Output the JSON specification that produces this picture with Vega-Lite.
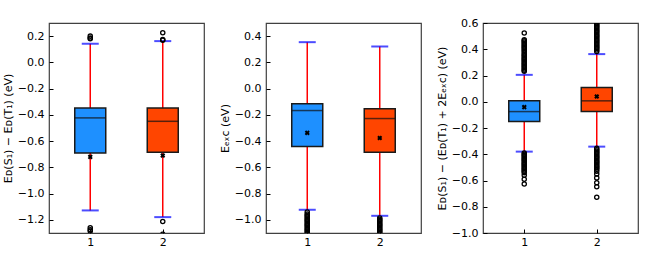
{
  "$schema": "https://vega.github.io/schema/vega-lite/v6.json",
  "padding": {"left": 1, "top": 16, "right": 5, "bottom": 5},
  "bounds": "flush",
  "spacing": 62,
  "datasets": {
    "boxes": [
      {"panel": 1, "group": 1, "lower": -1.128, "q1": -0.69, "median": -0.423, "q3": -0.347, "upper": 0.142, "mean": -0.72, "color": "#1E90FF"},
      {"panel": 1, "group": 2, "lower": -1.179, "q1": -0.685, "median": -0.449, "q3": -0.347, "upper": 0.162, "mean": -0.71, "color": "#FF4500"},
      {"panel": 2, "group": 1, "lower": -0.923, "q1": -0.44, "median": -0.167, "q3": -0.116, "upper": 0.354, "mean": -0.337, "color": "#1E90FF"},
      {"panel": 2, "group": 2, "lower": -0.969, "q1": -0.485, "median": -0.228, "q3": -0.154, "upper": 0.321, "mean": -0.376, "color": "#FF4500"},
      {"panel": 3, "group": 1, "lower": -0.38, "q1": -0.151, "median": -0.075, "q3": 0.007, "upper": 0.205, "mean": -0.041, "color": "#1E90FF"},
      {"panel": 3, "group": 2, "lower": -0.342, "q1": -0.075, "median": 0.007, "q3": 0.109, "upper": 0.363, "mean": 0.04, "color": "#FF4500"}
    ],
    "outliers": [
      {"panel": 1, "group": 1, "value": 0.2}, {"panel": 1, "group": 1, "value": 0.186}, {"panel": 1, "group": 1, "value": 0.18},
      {"panel": 1, "group": 1, "value": -1.26}, {"panel": 1, "group": 1, "value": -1.275}, {"panel": 1, "group": 1, "value": -1.285},
      {"panel": 1, "group": 2, "value": 0.226}, {"panel": 1, "group": 2, "value": 0.175}, {"panel": 1, "group": 2, "value": 0.168},
      {"panel": 1, "group": 2, "value": -1.212}, {"panel": 1, "group": 2, "value": -1.31},
      {"panel": 2, "group": 1, "value": -0.94}, {"panel": 2, "group": 1, "value": -0.955}, {"panel": 2, "group": 1, "value": -0.965},
      {"panel": 2, "group": 1, "value": -0.975}, {"panel": 2, "group": 1, "value": -0.985}, {"panel": 2, "group": 1, "value": -0.995},
      {"panel": 2, "group": 1, "value": -1.005}, {"panel": 2, "group": 1, "value": -1.015}, {"panel": 2, "group": 1, "value": -1.025},
      {"panel": 2, "group": 1, "value": -1.035}, {"panel": 2, "group": 1, "value": -1.045}, {"panel": 2, "group": 1, "value": -1.055},
      {"panel": 2, "group": 1, "value": -1.065}, {"panel": 2, "group": 1, "value": -1.075}, {"panel": 2, "group": 1, "value": -1.085},
      {"panel": 2, "group": 1, "value": -1.095}, {"panel": 2, "group": 1, "value": -1.105}, {"panel": 2, "group": 1, "value": -1.12},
      {"panel": 2, "group": 2, "value": -0.985}, {"panel": 2, "group": 2, "value": -0.995}, {"panel": 2, "group": 2, "value": -1.005},
      {"panel": 2, "group": 2, "value": -1.015}, {"panel": 2, "group": 2, "value": -1.025}, {"panel": 2, "group": 2, "value": -1.035},
      {"panel": 2, "group": 2, "value": -1.045}, {"panel": 2, "group": 2, "value": -1.055}, {"panel": 2, "group": 2, "value": -1.065},
      {"panel": 2, "group": 2, "value": -1.075}, {"panel": 2, "group": 2, "value": -1.085}, {"panel": 2, "group": 2, "value": -1.095},
      {"panel": 2, "group": 2, "value": -1.105}, {"panel": 2, "group": 2, "value": -1.12},
      {"panel": 3, "group": 1, "value": 0.524}, {"panel": 3, "group": 1, "value": 0.473}, {"panel": 3, "group": 1, "value": 0.465},
      {"panel": 3, "group": 1, "value": 0.455}, {"panel": 3, "group": 1, "value": 0.445}, {"panel": 3, "group": 1, "value": 0.435},
      {"panel": 3, "group": 1, "value": 0.425}, {"panel": 3, "group": 1, "value": 0.415}, {"panel": 3, "group": 1, "value": 0.405},
      {"panel": 3, "group": 1, "value": 0.395}, {"panel": 3, "group": 1, "value": 0.385}, {"panel": 3, "group": 1, "value": 0.372},
      {"panel": 3, "group": 1, "value": 0.36}, {"panel": 3, "group": 1, "value": 0.35}, {"panel": 3, "group": 1, "value": 0.34},
      {"panel": 3, "group": 1, "value": 0.33}, {"panel": 3, "group": 1, "value": 0.32}, {"panel": 3, "group": 1, "value": 0.31},
      {"panel": 3, "group": 1, "value": 0.3}, {"panel": 3, "group": 1, "value": 0.29}, {"panel": 3, "group": 1, "value": 0.28},
      {"panel": 3, "group": 1, "value": 0.27}, {"panel": 3, "group": 1, "value": 0.26}, {"panel": 3, "group": 1, "value": 0.25},
      {"panel": 3, "group": 1, "value": 0.24}, {"panel": 3, "group": 1, "value": 0.232},
      {"panel": 3, "group": 1, "value": -0.39}, {"panel": 3, "group": 1, "value": -0.4}, {"panel": 3, "group": 1, "value": -0.41},
      {"panel": 3, "group": 1, "value": -0.42}, {"panel": 3, "group": 1, "value": -0.43}, {"panel": 3, "group": 1, "value": -0.44},
      {"panel": 3, "group": 1, "value": -0.45}, {"panel": 3, "group": 1, "value": -0.46}, {"panel": 3, "group": 1, "value": -0.47},
      {"panel": 3, "group": 1, "value": -0.48}, {"panel": 3, "group": 1, "value": -0.49}, {"panel": 3, "group": 1, "value": -0.5},
      {"panel": 3, "group": 1, "value": -0.51}, {"panel": 3, "group": 1, "value": -0.52}, {"panel": 3, "group": 1, "value": -0.53},
      {"panel": 3, "group": 1, "value": -0.54}, {"panel": 3, "group": 1, "value": -0.56}, {"panel": 3, "group": 1, "value": -0.59},
      {"panel": 3, "group": 1, "value": -0.627},
      {"panel": 3, "group": 2, "value": 0.383}, {"panel": 3, "group": 2, "value": 0.395}, {"panel": 3, "group": 2, "value": 0.405},
      {"panel": 3, "group": 2, "value": 0.415}, {"panel": 3, "group": 2, "value": 0.425}, {"panel": 3, "group": 2, "value": 0.435},
      {"panel": 3, "group": 2, "value": 0.445}, {"panel": 3, "group": 2, "value": 0.455}, {"panel": 3, "group": 2, "value": 0.465},
      {"panel": 3, "group": 2, "value": 0.475}, {"panel": 3, "group": 2, "value": 0.485}, {"panel": 3, "group": 2, "value": 0.495},
      {"panel": 3, "group": 2, "value": 0.505}, {"panel": 3, "group": 2, "value": 0.515}, {"panel": 3, "group": 2, "value": 0.525},
      {"panel": 3, "group": 2, "value": 0.535}, {"panel": 3, "group": 2, "value": 0.545}, {"panel": 3, "group": 2, "value": 0.555},
      {"panel": 3, "group": 2, "value": 0.565}, {"panel": 3, "group": 2, "value": 0.575}, {"panel": 3, "group": 2, "value": 0.585},
      {"panel": 3, "group": 2, "value": 0.595}, {"panel": 3, "group": 2, "value": 0.61},
      {"panel": 3, "group": 2, "value": -0.354}, {"panel": 3, "group": 2, "value": -0.365}, {"panel": 3, "group": 2, "value": -0.375},
      {"panel": 3, "group": 2, "value": -0.385}, {"panel": 3, "group": 2, "value": -0.395}, {"panel": 3, "group": 2, "value": -0.405},
      {"panel": 3, "group": 2, "value": -0.415}, {"panel": 3, "group": 2, "value": -0.425}, {"panel": 3, "group": 2, "value": -0.435},
      {"panel": 3, "group": 2, "value": -0.445}, {"panel": 3, "group": 2, "value": -0.455}, {"panel": 3, "group": 2, "value": -0.465},
      {"panel": 3, "group": 2, "value": -0.475}, {"panel": 3, "group": 2, "value": -0.485}, {"panel": 3, "group": 2, "value": -0.495},
      {"panel": 3, "group": 2, "value": -0.505}, {"panel": 3, "group": 2, "value": -0.515}, {"panel": 3, "group": 2, "value": -0.53},
      {"panel": 3, "group": 2, "value": -0.55}, {"panel": 3, "group": 2, "value": -0.58}, {"panel": 3, "group": 2, "value": -0.617},
      {"panel": 3, "group": 2, "value": -0.647}, {"panel": 3, "group": 2, "value": -0.728}
    ]
  },
  "hconcat": [
    {
      "width": 155, "height": 210,
      "encoding": {"x": {"field": "group", "type": "quantitative", "scale": {"domain": [0.5, 2.5], "nice": false, "zero": false}, "axis": {"values": [1, 2], "format": "d", "title": null}}},
      "layer": [
        {"data": {"name": "boxes"}, "transform": [{"filter": "datum.panel == 1"}], "mark": {"type": "rule", "color": "#FF0000", "strokeWidth": 1.5},
         "encoding": {"y": {"field": "lower", "type": "quantitative", "scale": {"domain": [-1.3, 0.3], "nice": false, "zero": false}, "axis": {"values": [-1.2, -1.0, -0.8, -0.6, -0.4, -0.2, 0.0, 0.2], "format": ".1f"}, "title": "Eᴅ(S₁) − Eᴅ(T₁) (eV)"}, "y2": {"field": "upper"}}},
        {"data": {"name": "boxes"}, "transform": [{"filter": "datum.panel == 1"}], "mark": {"type": "bar", "size": 31, "stroke": "#1a1a1a", "strokeWidth": 1.5},
         "encoding": {"y": {"field": "q1", "type": "quantitative", "scale": {"domain": [-1.3, 0.3], "nice": false, "zero": false}, "axis": {"values": [-1.2, -1.0, -0.8, -0.6, -0.4, -0.2, 0.0, 0.2], "format": ".1f"}, "title": "Eᴅ(S₁) − Eᴅ(T₁) (eV)"}, "y2": {"field": "q3"}, "fill": {"field": "color", "type": "nominal", "scale": null}}},
        {"data": {"name": "boxes"}, "transform": [{"filter": "datum.panel == 1"}], "mark": {"type": "tick", "orient": "horizontal", "size": 31, "thickness": 1.5, "color": "#111111"},
         "encoding": {"y": {"field": "median", "type": "quantitative", "scale": {"domain": [-1.3, 0.3], "nice": false, "zero": false}, "axis": {"values": [-1.2, -1.0, -0.8, -0.6, -0.4, -0.2, 0.0, 0.2], "format": ".1f"}, "title": "Eᴅ(S₁) − Eᴅ(T₁) (eV)"}}},
        {"data": {"name": "boxes"}, "transform": [{"filter": "datum.panel == 1"}], "mark": {"type": "tick", "orient": "horizontal", "size": 17, "thickness": 2, "color": "#0000FF"},
         "encoding": {"y": {"field": "upper", "type": "quantitative", "scale": {"domain": [-1.3, 0.3], "nice": false, "zero": false}, "axis": {"values": [-1.2, -1.0, -0.8, -0.6, -0.4, -0.2, 0.0, 0.2], "format": ".1f"}, "title": "Eᴅ(S₁) − Eᴅ(T₁) (eV)"}}},
        {"data": {"name": "boxes"}, "transform": [{"filter": "datum.panel == 1"}], "mark": {"type": "tick", "orient": "horizontal", "size": 17, "thickness": 2, "color": "#0000FF"},
         "encoding": {"y": {"field": "lower", "type": "quantitative", "scale": {"domain": [-1.3, 0.3], "nice": false, "zero": false}, "axis": {"values": [-1.2, -1.0, -0.8, -0.6, -0.4, -0.2, 0.0, 0.2], "format": ".1f"}, "title": "Eᴅ(S₁) − Eᴅ(T₁) (eV)"}}},
        {"data": {"name": "boxes"}, "transform": [{"filter": "datum.panel == 1"}], "mark": {"type": "point", "shape": "cross", "angle": 45, "filled": true, "size": 26, "color": "#000000", "opacity": 1},
         "encoding": {"y": {"field": "mean", "type": "quantitative", "scale": {"domain": [-1.3, 0.3], "nice": false, "zero": false}, "axis": {"values": [-1.2, -1.0, -0.8, -0.6, -0.4, -0.2, 0.0, 0.2], "format": ".1f"}, "title": "Eᴅ(S₁) − Eᴅ(T₁) (eV)"}}},
        {"data": {"name": "outliers"}, "transform": [{"filter": "datum.panel == 1"}], "mark": {"type": "point", "shape": "circle", "filled": false, "size": 18, "stroke": "#000000", "strokeWidth": 1.3, "opacity": 1, "clip": true},
         "encoding": {"y": {"field": "value", "type": "quantitative", "scale": {"domain": [-1.3, 0.3], "nice": false, "zero": false}, "axis": {"values": [-1.2, -1.0, -0.8, -0.6, -0.4, -0.2, 0.0, 0.2], "format": ".1f"}, "title": "Eᴅ(S₁) − Eᴅ(T₁) (eV)"}}}
      ]
    },
    {
      "width": 155, "height": 210,
      "encoding": {"x": {"field": "group", "type": "quantitative", "scale": {"domain": [0.5, 2.5], "nice": false, "zero": false}, "axis": {"values": [1, 2], "format": "d", "title": null}}},
      "layer": [
        {"data": {"name": "boxes"}, "transform": [{"filter": "datum.panel == 2"}], "mark": {"type": "rule", "color": "#FF0000", "strokeWidth": 1.5},
         "encoding": {"y": {"field": "lower", "type": "quantitative", "scale": {"domain": [-1.1, 0.5], "nice": false, "zero": false}, "axis": {"values": [-1.0, -0.8, -0.6, -0.4, -0.2, 0.0, 0.2, 0.4], "format": ".1f"}, "title": "Eₑₓc (eV)"}, "y2": {"field": "upper"}}},
        {"data": {"name": "boxes"}, "transform": [{"filter": "datum.panel == 2"}], "mark": {"type": "bar", "size": 31, "stroke": "#1a1a1a", "strokeWidth": 1.5},
         "encoding": {"y": {"field": "q1", "type": "quantitative", "scale": {"domain": [-1.1, 0.5], "nice": false, "zero": false}, "axis": {"values": [-1.0, -0.8, -0.6, -0.4, -0.2, 0.0, 0.2, 0.4], "format": ".1f"}, "title": "Eₑₓc (eV)"}, "y2": {"field": "q3"}, "fill": {"field": "color", "type": "nominal", "scale": null}}},
        {"data": {"name": "boxes"}, "transform": [{"filter": "datum.panel == 2"}], "mark": {"type": "tick", "orient": "horizontal", "size": 31, "thickness": 1.5, "color": "#111111"},
         "encoding": {"y": {"field": "median", "type": "quantitative", "scale": {"domain": [-1.1, 0.5], "nice": false, "zero": false}, "axis": {"values": [-1.0, -0.8, -0.6, -0.4, -0.2, 0.0, 0.2, 0.4], "format": ".1f"}, "title": "Eₑₓc (eV)"}}},
        {"data": {"name": "boxes"}, "transform": [{"filter": "datum.panel == 2"}], "mark": {"type": "tick", "orient": "horizontal", "size": 17, "thickness": 2, "color": "#0000FF"},
         "encoding": {"y": {"field": "upper", "type": "quantitative", "scale": {"domain": [-1.1, 0.5], "nice": false, "zero": false}, "axis": {"values": [-1.0, -0.8, -0.6, -0.4, -0.2, 0.0, 0.2, 0.4], "format": ".1f"}, "title": "Eₑₓc (eV)"}}},
        {"data": {"name": "boxes"}, "transform": [{"filter": "datum.panel == 2"}], "mark": {"type": "tick", "orient": "horizontal", "size": 17, "thickness": 2, "color": "#0000FF"},
         "encoding": {"y": {"field": "lower", "type": "quantitative", "scale": {"domain": [-1.1, 0.5], "nice": false, "zero": false}, "axis": {"values": [-1.0, -0.8, -0.6, -0.4, -0.2, 0.0, 0.2, 0.4], "format": ".1f"}, "title": "Eₑₓc (eV)"}}},
        {"data": {"name": "boxes"}, "transform": [{"filter": "datum.panel == 2"}], "mark": {"type": "point", "shape": "cross", "angle": 45, "filled": true, "size": 26, "color": "#000000", "opacity": 1},
         "encoding": {"y": {"field": "mean", "type": "quantitative", "scale": {"domain": [-1.1, 0.5], "nice": false, "zero": false}, "axis": {"values": [-1.0, -0.8, -0.6, -0.4, -0.2, 0.0, 0.2, 0.4], "format": ".1f"}, "title": "Eₑₓc (eV)"}}},
        {"data": {"name": "outliers"}, "transform": [{"filter": "datum.panel == 2"}], "mark": {"type": "point", "shape": "circle", "filled": false, "size": 18, "stroke": "#000000", "strokeWidth": 1.3, "opacity": 1, "clip": true},
         "encoding": {"y": {"field": "value", "type": "quantitative", "scale": {"domain": [-1.1, 0.5], "nice": false, "zero": false}, "axis": {"values": [-1.0, -0.8, -0.6, -0.4, -0.2, 0.0, 0.2, 0.4], "format": ".1f"}, "title": "Eₑₓc (eV)"}}}
      ]
    },
    {
      "width": 155, "height": 210,
      "encoding": {"x": {"field": "group", "type": "quantitative", "scale": {"domain": [0.5, 2.5], "nice": false, "zero": false}, "axis": {"values": [1, 2], "format": "d", "title": null}}},
      "layer": [
        {"data": {"name": "boxes"}, "transform": [{"filter": "datum.panel == 3"}], "mark": {"type": "rule", "color": "#FF0000", "strokeWidth": 1.5},
         "encoding": {"y": {"field": "lower", "type": "quantitative", "scale": {"domain": [-1.0, 0.6], "nice": false, "zero": false}, "axis": {"values": [-1.0, -0.8, -0.6, -0.4, -0.2, 0.0, 0.2, 0.4, 0.6], "format": ".1f"}, "title": "Eᴅ(S₁) − (Eᴅ(T₁) + 2Eₑₓc) (eV)"}, "y2": {"field": "upper"}}},
        {"data": {"name": "boxes"}, "transform": [{"filter": "datum.panel == 3"}], "mark": {"type": "bar", "size": 31, "stroke": "#1a1a1a", "strokeWidth": 1.5},
         "encoding": {"y": {"field": "q1", "type": "quantitative", "scale": {"domain": [-1.0, 0.6], "nice": false, "zero": false}, "axis": {"values": [-1.0, -0.8, -0.6, -0.4, -0.2, 0.0, 0.2, 0.4, 0.6], "format": ".1f"}, "title": "Eᴅ(S₁) − (Eᴅ(T₁) + 2Eₑₓc) (eV)"}, "y2": {"field": "q3"}, "fill": {"field": "color", "type": "nominal", "scale": null}}},
        {"data": {"name": "boxes"}, "transform": [{"filter": "datum.panel == 3"}], "mark": {"type": "tick", "orient": "horizontal", "size": 31, "thickness": 1.5, "color": "#111111"},
         "encoding": {"y": {"field": "median", "type": "quantitative", "scale": {"domain": [-1.0, 0.6], "nice": false, "zero": false}, "axis": {"values": [-1.0, -0.8, -0.6, -0.4, -0.2, 0.0, 0.2, 0.4, 0.6], "format": ".1f"}, "title": "Eᴅ(S₁) − (Eᴅ(T₁) + 2Eₑₓc) (eV)"}}},
        {"data": {"name": "boxes"}, "transform": [{"filter": "datum.panel == 3"}], "mark": {"type": "tick", "orient": "horizontal", "size": 17, "thickness": 2, "color": "#0000FF"},
         "encoding": {"y": {"field": "upper", "type": "quantitative", "scale": {"domain": [-1.0, 0.6], "nice": false, "zero": false}, "axis": {"values": [-1.0, -0.8, -0.6, -0.4, -0.2, 0.0, 0.2, 0.4, 0.6], "format": ".1f"}, "title": "Eᴅ(S₁) − (Eᴅ(T₁) + 2Eₑₓc) (eV)"}}},
        {"data": {"name": "boxes"}, "transform": [{"filter": "datum.panel == 3"}], "mark": {"type": "tick", "orient": "horizontal", "size": 17, "thickness": 2, "color": "#0000FF"},
         "encoding": {"y": {"field": "lower", "type": "quantitative", "scale": {"domain": [-1.0, 0.6], "nice": false, "zero": false}, "axis": {"values": [-1.0, -0.8, -0.6, -0.4, -0.2, 0.0, 0.2, 0.4, 0.6], "format": ".1f"}, "title": "Eᴅ(S₁) − (Eᴅ(T₁) + 2Eₑₓc) (eV)"}}},
        {"data": {"name": "boxes"}, "transform": [{"filter": "datum.panel == 3"}], "mark": {"type": "point", "shape": "cross", "angle": 45, "filled": true, "size": 26, "color": "#000000", "opacity": 1},
         "encoding": {"y": {"field": "mean", "type": "quantitative", "scale": {"domain": [-1.0, 0.6], "nice": false, "zero": false}, "axis": {"values": [-1.0, -0.8, -0.6, -0.4, -0.2, 0.0, 0.2, 0.4, 0.6], "format": ".1f"}, "title": "Eᴅ(S₁) − (Eᴅ(T₁) + 2Eₑₓc) (eV)"}}},
        {"data": {"name": "outliers"}, "transform": [{"filter": "datum.panel == 3"}], "mark": {"type": "point", "shape": "circle", "filled": false, "size": 18, "stroke": "#000000", "strokeWidth": 1.3, "opacity": 1, "clip": true},
         "encoding": {"y": {"field": "value", "type": "quantitative", "scale": {"domain": [-1.0, 0.6], "nice": false, "zero": false}, "axis": {"values": [-1.0, -0.8, -0.6, -0.4, -0.2, 0.0, 0.2, 0.4, 0.6], "format": ".1f"}, "title": "Eᴅ(S₁) − (Eᴅ(T₁) + 2Eₑₓc) (eV)"}}}
      ]
    }
  ],
  "config": {
    "font": "DejaVu Sans",
    "background": "#ffffff",
    "view": {"stroke": "#404040", "strokeWidth": 1.2},
    "axis": {"grid": false, "domain": false, "tickSize": -4, "tickColor": "#000000", "tickWidth": 1, "labelFont": "DejaVu Sans", "labelFontSize": 11, "labelColor": "#000000", "titleFont": "DejaVu Sans", "titleFontSize": 11, "titleFontWeight": "normal", "titleColor": "#000000", "labelFlush": false, "labelOverlap": false},
    "axisY": {"labelPadding": 9, "titlePadding": 4},
    "axisX": {"labelPadding": 7}
  }
}
